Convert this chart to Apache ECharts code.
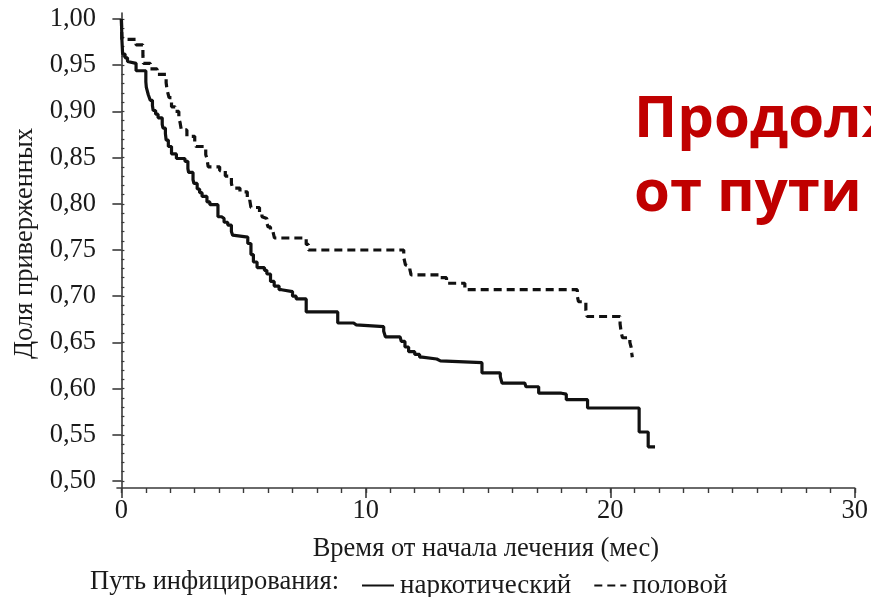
<!DOCTYPE html>
<html>
<head>
<meta charset="utf-8">
<script src="https://cdn.jsdelivr.net/npm/echarts@6/dist/echarts.min.js"></script>
<style>
html,body{margin:0;padding:0;background:#fff;}
#chart{width:871px;height:597px;}
</style>
</head>
<body>
<div id="chart"></div>
<script>
// ---- data ----
const narcTime = [0, 0.02, 0.05, 0.15, 0.25, 0.30, 0.60, 1.00, 1.02, 1.10, 1.18, 1.27, 1.30, 1.40, 1.50, 1.67, 1.70, 1.80, 1.83, 1.92, 2.05, 2.25, 2.60, 2.72, 2.75, 2.93, 2.97, 3.10, 3.20, 3.30, 3.50, 3.62, 3.95, 4.10, 4.20, 4.35, 4.50, 4.55, 4.60, 5.17, 5.30, 5.40, 5.55, 5.85, 5.95, 6.10, 6.25, 6.45, 6.55, 7.00, 7.15, 7.56, 8.85, 9.50, 9.60, 10.73, 10.80, 11.40, 11.45, 11.60, 11.75, 12.00, 12.20, 12.30, 12.90, 13.05, 14.75, 15.50, 15.57, 16.50, 16.55, 17.07, 18.00, 18.20, 19.07, 21.18, 21.55, 21.83];
const narcSurv = [1.000, 0.978, 0.962, 0.958, 0.954, 0.952, 0.944, 0.932, 0.926, 0.918, 0.912, 0.906, 0.901, 0.897, 0.893, 0.886, 0.882, 0.876, 0.869, 0.862, 0.854, 0.849, 0.846, 0.838, 0.834, 0.826, 0.822, 0.816, 0.812, 0.808, 0.802, 0.799, 0.786, 0.784, 0.780, 0.777, 0.770, 0.766, 0.764, 0.757, 0.745, 0.737, 0.731, 0.728, 0.724, 0.716, 0.711, 0.707, 0.705, 0.700, 0.697, 0.683, 0.671, 0.669, 0.667, 0.662, 0.656, 0.655, 0.651, 0.645, 0.640, 0.637, 0.634, 0.632, 0.630, 0.628, 0.617, 0.613, 0.606, 0.605, 0.602, 0.595, 0.594, 0.588, 0.579, 0.553, 0.537, 0.537];

const sexTime = [0, 0.02, 0.60, 0.88, 0.90, 1.18, 1.46, 1.83, 1.87, 1.95, 2.05, 2.20, 2.35, 2.40, 2.45, 2.68, 3.00, 3.05, 3.45, 3.50, 3.55, 4.02, 4.25, 4.50, 4.55, 4.85, 5.15, 5.25, 5.30, 5.65, 5.75, 5.80, 5.95, 6.00, 6.10, 6.20, 6.26, 7.56, 7.65, 11.55, 11.62, 11.70, 11.80, 11.85, 13.05, 13.30, 14.05, 18.65, 18.70, 19.00, 19.05, 20.40, 20.45, 20.50, 20.80, 20.85, 20.88, 20.90];
const sexSurv = [1.000, 0.978, 0.972, 0.960, 0.952, 0.946, 0.940, 0.931, 0.923, 0.915, 0.905, 0.900, 0.892, 0.888, 0.880, 0.873, 0.866, 0.862, 0.853, 0.849, 0.840, 0.836, 0.830, 0.822, 0.817, 0.813, 0.807, 0.804, 0.796, 0.790, 0.786, 0.784, 0.779, 0.775, 0.770, 0.768, 0.763, 0.756, 0.750, 0.742, 0.734, 0.732, 0.729, 0.723, 0.720, 0.714, 0.707, 0.700, 0.694, 0.685, 0.678, 0.670, 0.660, 0.655, 0.650, 0.645, 0.638, 0.634];

const seriesNames = ['наркотический', 'половой'];
const yTickValues = [0.50, 0.55, 0.60, 0.65, 0.70, 0.75, 0.80, 0.85, 0.90, 0.95, 1.00];
const xTickValues = [0, 10, 20, 30];
const xMinorTickValues = [0,1,2,3,4,5,6,7,8,9,10,11,12,13,14,15,16,17,18,19,20,21,22,23,24,25,26,27,28,29,30];
const yMinorTickValues = [];
for (let i = 50; i <= 100; i++) yMinorTickValues.push(i / 100);

const xTitle = 'Время от начала лечения (мес)';
const yTitle = 'Доля приверженных';
const legendPrefix = 'Путь инфицирования:';
const slideLine1 = 'Продолж';
const slideLine2 = 'от пути и';

// ---- chart ----
const serif = '"Liberation Serif", "DejaVu Serif", serif';
const FS = 26.5;
const zip = (a, b) => a.map((t, i) => [t, b[i]]);
const X_MIN = -0.18, X_MAX = 30, Y_MIN = 0.4924, Y_MAX = 1.0065;
const axisColor = '#3a3a3a';
const textColor = '#1a1a1a';

const chart = echarts.init(document.getElementById('chart'), null, {renderer: 'canvas'});
chart.setOption({
  animation: false,
  backgroundColor: '#ffffff',
  grid: {left: 117, right: 13, top: 13, bottom: 109, containLabel: false},
  xAxis: [{
    type: 'value', min: X_MIN, max: X_MAX, position: 'bottom',
    axisLine: {show: true, lineStyle: {color: axisColor, width: 1.6}},
    axisTick: {show: true, customValues: xTickValues, length: 10, lineStyle: {color: axisColor, width: 1.6}},
    axisLabel: {show: true, customValues: xTickValues, margin: 10, color: textColor, fontFamily: serif, fontSize: FS},
    splitLine: {show: false},
    name: xTitle, nameLocation: 'middle', nameGap: 48,
    nameTextStyle: {color: textColor, fontFamily: serif, fontSize: FS}
  }, {
    type: 'value', min: X_MIN, max: X_MAX, position: 'bottom',
    axisLine: {show: false},
    axisTick: {show: true, customValues: xMinorTickValues, length: 5, lineStyle: {color: axisColor, width: 1.4}},
    axisLabel: {show: false},
    splitLine: {show: false}
  }],
  yAxis: [{
    type: 'value', min: Y_MIN, max: Y_MAX, position: 'left',
    axisLine: {show: true, lineStyle: {color: axisColor, width: 1.6}},
    axisTick: {show: true, customValues: yTickValues, length: 9, lineStyle: {color: axisColor, width: 1.6}},
    axisLabel: {show: true, customValues: yTickValues, margin: 21, color: textColor, fontFamily: serif, fontSize: FS,
      formatter: v => v.toFixed(2).replace('.', ',')},
    splitLine: {show: false},
    name: yTitle, nameLocation: 'middle', nameGap: 67, nameRotate: 90,
    nameTextStyle: {color: textColor, fontFamily: serif, fontSize: FS, padding: [0, 0, 0, 14]}
  }, {
    type: 'value', min: Y_MIN, max: Y_MAX, position: 'left',
    axisLine: {show: false},
    axisTick: {show: true, inside: true, customValues: yMinorTickValues, length: 3, lineStyle: {color: axisColor, width: 1.2}},
    axisLabel: {show: false},
    splitLine: {show: false}
  }],
  legend: {
    show: true, left: 356, top: 567, itemWidth: 32, itemHeight: 14, itemGap: 22,
    itemStyle: {opacity: 0},
    textStyle: {color: textColor, fontFamily: serif, fontSize: 27, padding: [0, 0, 0, 1]},
    data: seriesNames
  },
  series: [{
    name: seriesNames[0], type: 'line', step: 'end', symbol: 'none', xAxisIndex: 0, yAxisIndex: 0,
    data: zip(narcTime, narcSurv),
    lineStyle: {color: '#111', width: 3.2, type: 'solid'},
    itemStyle: {color: '#444'}
  }, {
    name: seriesNames[1], type: 'line', step: 'end', symbol: 'none', xAxisIndex: 0, yAxisIndex: 0,
    data: zip(sexTime, sexSurv),
    lineStyle: {color: '#111', width: 3.2, type: [8, 5]},
    itemStyle: {color: '#444'}
  }],
  graphic: [
    {type: 'text', left: 90, top: 569, style: {text: legendPrefix, font: FS + 'px ' + serif, fill: textColor}},
    {type: 'text', left: 634, top: 91, style: {text: slideLine1, font: 'bold 58px "Open Sans", "Liberation Sans", sans-serif', fill: '#C00000'}},
    {type: 'text', left: 634, top: 165, style: {text: slideLine2, font: 'bold 58px "Open Sans", "Liberation Sans", sans-serif', fill: '#C00000'}}
  ]
});
</script>
</body>
</html>
